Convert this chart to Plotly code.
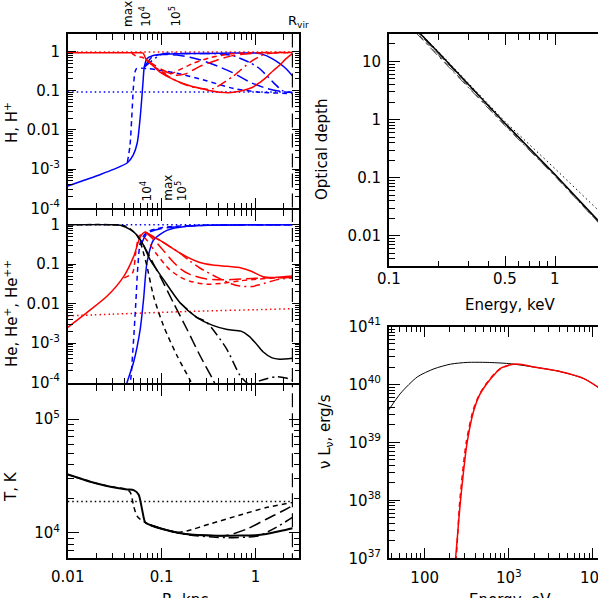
import math
import plotly.graph_objects as go

# positions below are given in reference pixels
W = 700
H = 598
FONT = "DejaVu Sans"
RED = "#ff0000"
BLUE = "#0000ff"

R_VIR = 2.47

# ---- panel 1: H, H+ ----
h_red_solid_r = [0.01, 0.03, 0.06, 0.0635, 0.0655, 0.068, 0.08, 0.096, 0.12, 0.157, 0.2, 0.255, 0.33, 0.416, 0.55, 0.676, 0.93, 1.1, 1.3, 1.55, 1.79, 2.1, 2.47]
h_red_solid = [0.93, 0.93, 0.93, 0.92, 0.8, 0.64, 0.45, 0.3, 0.22, 0.164, 0.135, 0.116, 0.1, 0.092, 0.09, 0.097, 0.123, 0.16, 0.22, 0.33, 0.44, 0.65, 0.89]
h_red_dash_r = [0.048, 0.051, 0.055, 0.062, 0.068, 0.085, 0.105, 0.125, 0.146, 0.215, 0.33, 0.5, 0.8, 2.47]
h_red_dash = [0.93, 0.82, 0.74, 0.72, 0.62, 0.4, 0.29, 0.27, 0.32, 0.5, 0.7, 0.85, 0.93, 0.93]
h_red_long_r = [0.068, 0.1, 0.14, 0.18, 0.255, 0.4, 0.57, 0.9, 1.3, 2.47]
h_red_long = [0.62, 0.35, 0.25, 0.27, 0.42, 0.62, 0.79, 0.9, 0.95, 0.95]
h_red_dd_r = [0.068, 0.1, 0.15, 0.2, 0.3, 0.36, 0.57, 0.86, 1.1, 1.3, 1.9, 2.47]
h_red_dd = [0.62, 0.3, 0.17, 0.13, 0.11, 0.115, 0.23, 0.52, 0.75, 0.87, 0.95, 0.95]
h_red_dot_r = [0.01, 2.47]
h_red_dot = [0.98, 0.98]

h_blue_solid_r = [0.01, 0.0223, 0.0307, 0.0432, 0.0499, 0.055, 0.0591, 0.0632, 0.0653, 0.0697, 0.08, 0.1, 0.15, 0.3, 0.6, 1.0, 1.2, 1.5, 1.8, 2.1, 2.47]
h_blue_solid = [3.7e-4, 7.3e-4, 9.8e-4, 1.45e-3, 2.3e-3, 4.7e-3, 0.021, 0.155, 0.4, 0.66, 0.78, 0.85, 0.88, 0.9, 0.92, 0.92, 0.85, 0.66, 0.5, 0.37, 0.24]
h_blue_dash_r = [0.0432, 0.046, 0.048, 0.05, 0.052, 0.054, 0.07, 0.09, 0.146, 0.3, 0.57, 1.1, 2.47]
h_blue_dash = [1.5e-3, 4e-3, 0.02, 0.12, 0.3, 0.37, 0.37, 0.34, 0.28, 0.18, 0.116, 0.092, 0.085]
h_blue_long_r = [0.0653, 0.08, 0.1, 0.146, 0.2, 0.255, 0.4, 0.57, 0.9, 1.3, 1.9, 2.47]
h_blue_long = [0.4, 0.75, 0.84, 0.82, 0.72, 0.62, 0.42, 0.29, 0.16, 0.116, 0.095, 0.09]
h_blue_dd_r = [0.0653, 0.1, 0.2, 0.4, 0.57, 0.86, 1.1, 1.3, 1.6, 1.95, 2.47]
h_blue_dd = [0.4, 0.85, 0.89, 0.88, 0.79, 0.53, 0.37, 0.25, 0.15, 0.1, 0.09]
h_blue_dot_r = [0.01, 2.47]
h_blue_dot = [0.093, 0.093]

# ---- panel 2: He, He+, He++ ----
he_black_solid_r = [0.01, 0.03, 0.0364, 0.0465, 0.0547, 0.0642, 0.0755, 0.1045, 0.157, 0.236, 0.35, 0.5, 0.7, 0.85, 1.0, 1.2, 1.5, 1.8, 2.47]
he_black_solid = [1.0, 1.0, 0.97, 0.75, 0.54, 0.3, 0.128, 0.041, 0.0105, 0.0045, 0.0028, 0.0022, 0.002, 0.0015, 0.001, 6e-4, 4.2e-4, 3.9e-4, 4.1e-4]
he_black_dash_r = [0.01, 0.03, 0.04, 0.045, 0.052, 0.058, 0.065, 0.0697, 0.0819, 0.1045, 0.145, 0.2, 0.23]
he_black_dash = [1.0, 1.0, 0.95, 0.82, 0.62, 0.42, 0.17, 0.09, 0.0155, 0.00275, 4.9e-4, 1.16e-4, 6e-5]
he_black_long_r = [0.0642, 0.075, 0.0964, 0.133, 0.185, 0.255, 0.353, 0.4]
he_black_long = [0.3, 0.15, 0.049, 0.0106, 0.0023, 4.9e-4, 1.16e-4, 6e-5]
he_black_dd_r = [0.157, 0.236, 0.3, 0.49, 0.678, 0.8, 0.9, 1.1, 1.66, 2.11, 2.47]
he_black_dd = [0.0105, 0.0045, 0.0034, 7.2e-4, 1.55e-4, 1e-4, 8.5e-5, 1.1e-4, 1.4e-4, 1.3e-4, 1.15e-4]

he_blue_solid_r = [0.041, 0.0428, 0.0503, 0.0592, 0.0642, 0.0697, 0.0819, 0.1137, 0.185, 0.35, 2.47]
he_blue_solid = [7e-5, 1e-4, 3.3e-4, 2.3e-3, 0.013, 0.106, 0.41, 0.72, 0.91, 0.97, 1.0]
he_blue_dash_r = [0.045, 0.0465, 0.05, 0.053, 0.056, 0.06, 0.07, 0.09, 0.13, 0.25, 2.47]
he_blue_dash = [7e-5, 1e-4, 1e-3, 0.01, 0.1, 0.4, 0.65, 0.8, 0.9, 0.97, 1.0]
he_blue_long_r = [0.06, 0.07, 0.1, 0.2, 0.4, 2.47]
he_blue_long = [0.3, 0.6, 0.8, 0.93, 0.98, 1.0]
he_blue_dot_r = [0.01, 2.47]
he_blue_dot = [1.0, 1.0]

he_red_solid_r = [0.01, 0.0161, 0.0263, 0.0395, 0.0503, 0.0592, 0.0668, 0.08, 0.0964, 0.157, 0.255, 0.35, 0.5, 0.7, 0.9, 1.2, 1.6, 2.47]
he_red_solid = [0.0025, 0.006, 0.0155, 0.049, 0.155, 0.49, 0.65, 0.5, 0.4, 0.19, 0.11, 0.095, 0.088, 0.08, 0.066, 0.048, 0.046, 0.05]
he_red_dash_r = [0.04, 0.049, 0.053, 0.057, 0.06, 0.07, 0.09, 0.12, 0.16, 0.2, 0.3, 0.45, 0.7, 1.1, 1.6, 2.47]
he_red_dash = [0.045, 0.06, 0.2, 0.5, 0.55, 0.4, 0.17, 0.075, 0.046, 0.037, 0.031, 0.033, 0.038, 0.042, 0.045, 0.047]
he_red_long_r = [0.0668, 0.08, 0.1, 0.13, 0.16, 0.2, 0.3, 0.45, 0.7, 1.0, 2.47]
he_red_long = [0.65, 0.45, 0.25, 0.12, 0.075, 0.055, 0.042, 0.04, 0.042, 0.044, 0.046]
he_red_dd_r = [0.0668, 0.0964, 0.157, 0.2, 0.255, 0.4, 0.55, 0.68, 0.9, 1.1, 1.66, 2.47]
he_red_dd = [0.65, 0.4, 0.19, 0.12, 0.08, 0.045, 0.032, 0.028, 0.027, 0.03, 0.04, 0.045]
he_red_dot_r = [0.01, 0.03, 0.1, 0.3, 1.0, 2.47]
he_red_dot = [0.0049, 0.0054, 0.006, 0.0065, 0.007, 0.0074]

# ---- panel 3: temperature ----
t_solid_r = [0.01, 0.019, 0.0285, 0.0428, 0.0503, 0.0568, 0.0618, 0.0668, 0.0755, 0.1, 0.145, 0.2, 0.326, 0.5, 0.73, 1.0, 1.3, 1.94, 2.47]
t_solid = [32600, 27600, 25500, 24100, 23800, 21800, 16200, 12400, 11750, 10900, 10100, 9700, 9500, 9450, 9500, 9550, 9800, 10500, 11000]
t_dash_r = [0.01, 0.019, 0.0285, 0.0428, 0.0465, 0.0503, 0.0545, 0.0618, 0.0668, 0.0755, 0.1, 0.145, 0.185, 0.326, 0.73, 1.3, 2.47]
t_dash = [32600, 27600, 25500, 24100, 22600, 17300, 14100, 12800, 12400, 11750, 10900, 10100, 10400, 12000, 14600, 16700, 18500]
t_long_r = [0.0755, 0.1, 0.145, 0.2, 0.326, 0.49, 0.8, 1.3, 1.94, 2.47]
t_long = [11750, 10900, 10100, 9700, 9500, 9500, 10800, 13200, 15600, 17300]
t_dd_r = [0.0755, 0.1, 0.145, 0.2, 0.35, 0.5, 0.8, 1.1, 1.66, 2.47]
t_dd = [11750, 10900, 10100, 9600, 9200, 9100, 9200, 9500, 11200, 13700]
t_dot_r = [0.01, 2.47]
t_dot = [18900, 18900]

# ---- optical depth ----
tau_e = [0.1, 0.2, 0.5, 1.0, 2.0, 4.0]
tau_solid = [110, 14, 0.86, 0.113, 0.0135, 0.0016]
tau_dash = [100, 12.6, 0.8, 0.107, 0.013, 0.0015]
tau_long = [104, 13.2, 0.83, 0.11, 0.0132, 0.0016]
tau_dd = [96, 12.2, 0.78, 0.105, 0.0128, 0.0015]
tau_dot = [110, 14.5, 0.92, 0.142, 0.021, 0.003]

# ---- spectrum ----
spec_black_e = [37.4, 51.9, 81.9, 129, 203, 320, 553, 1000, 1983, 4140, 7820, 11600, 20000, 40000]
spec_black = [3.63e39, 7.08e39, 1.35e40, 1.86e40, 2.24e40, 2.40e40, 2.40e40, 2.29e40, 2.0e40, 1.66e40, 1.26e40, 8.9e39, 5.0e39, 1.8e39]
spec_red_e = [225, 233, 267, 320, 385, 450, 553, 700, 800, 1000, 1150, 1500, 1983, 4140, 7820, 11600, 20000, 40000]
spec_red = [6.3e36, 1e37, 1e38, 1e39, 3.63e39, 6.6e39, 1.05e40, 1.58e40, 1.9e40, 2.14e40, 2.24e40, 2.19e40, 2.0e40, 1.66e40, 1.26e40, 8.9e39, 5.0e39, 1.8e39]
spec_red_dash_e = [228, 237, 262, 312, 378, 445, 545, 690, 800, 1000, 1150]
spec_red_dash = [6.3e36, 1e37, 1e38, 1e39, 3.63e39, 6.6e39, 1.05e40, 1.58e40, 1.9e40, 2.14e40, 2.24e40]

DASH = "5px,4px"
LONG = "12px,5px"
DD = "10px,4px,2px,4px"
DOT = "1.5px,3px"

fig = go.Figure()


def line(x, y, xa, ya, color, dash="solid", width=1.5, shape="spline"):
    fig.add_trace(go.Scatter(x=x, y=y, xaxis=xa, yaxis=ya, mode="lines",
                             line=dict(color=color, dash=dash, width=width, shape=shape, smoothing=0.7),
                             hoverinfo="skip", showlegend=False))


# panel 1
line(h_red_dot_r, h_red_dot, "x", "y", RED, DOT)
line(h_blue_dot_r, h_blue_dot, "x", "y", BLUE, DOT)
line(h_blue_dash_r, h_blue_dash, "x", "y", BLUE, DASH)
line(h_blue_long_r, h_blue_long, "x", "y", BLUE, LONG)
line(h_blue_dd_r, h_blue_dd, "x", "y", BLUE, DD)
line(h_blue_solid_r, h_blue_solid, "x", "y", BLUE)
line(h_red_dash_r, h_red_dash, "x", "y", RED, DASH)
line(h_red_long_r, h_red_long, "x", "y", RED, LONG)
line(h_red_dd_r, h_red_dd, "x", "y", RED, DD)
line(h_red_solid_r, h_red_solid, "x", "y", RED)

# panel 2
line(he_blue_dot_r, he_blue_dot, "x2", "y2", BLUE, DOT)
line(he_red_dot_r, he_red_dot, "x2", "y2", RED, DOT)
line(he_blue_dash_r, he_blue_dash, "x2", "y2", BLUE, DASH)
line(he_blue_long_r, he_blue_long, "x2", "y2", BLUE, LONG)
line(he_blue_solid_r, he_blue_solid, "x2", "y2", BLUE)
line(he_red_dash_r, he_red_dash, "x2", "y2", RED, DASH)
line(he_red_long_r, he_red_long, "x2", "y2", RED, LONG)
line(he_red_dd_r, he_red_dd, "x2", "y2", RED, DD)
line(he_red_solid_r, he_red_solid, "x2", "y2", RED)
line(he_black_dash_r, he_black_dash, "x2", "y2", "black", DASH)
line(he_black_long_r, he_black_long, "x2", "y2", "black", LONG)
line(he_black_dd_r, he_black_dd, "x2", "y2", "black", DD)
line(he_black_solid_r, he_black_solid, "x2", "y2", "black")

# panel 3
line(t_dot_r, t_dot, "x3", "y3", "black", DOT)
line(t_dash_r, t_dash, "x3", "y3", "black", DASH)
line(t_long_r, t_long, "x3", "y3", "black", LONG)
line(t_dd_r, t_dd, "x3", "y3", "black", DD)
line(t_solid_r, t_solid, "x3", "y3", "black", width=2)

# virial radius marker in the three left panels
for xa, ya, lo, hi in [("x", "y", 1e-5, 10), ("x2", "y2", 1e-5, 10), ("x3", "y3", 5000, 3e5)]:
    line([R_VIR, R_VIR], [lo, hi], xa, ya, "black", "14px,6px", 1.2, "linear")

# optical depth
line(tau_e, tau_dot, "x4", "y4", "black", DOT, 1.0, "linear")
line(tau_e, tau_dash, "x4", "y4", "#444444", DASH, 1.0, "linear")
line(tau_e, tau_long, "x4", "y4", "#444444", LONG, 1.0, "linear")
line(tau_e, tau_dd, "x4", "y4", "#444444", DD, 1.0, "linear")
line(tau_e, tau_solid, "x4", "y4", "black", width=1.5, shape="linear")

# spectrum
line(spec_black_e, spec_black, "x5", "y5", "black", width=1.0)
line(spec_red_dash_e, spec_red_dash, "x5", "y5", RED, DASH, 1.5)
line(spec_red_e, spec_red, "x5", "y5", RED, width=1.5)


def decade_minor(lo, hi, mults=(2, 3, 4, 5, 6, 7, 8, 9)):
    return [m * 10.0 ** d for d in range(lo, hi) for m in mults]


def axis(dom, rng, anchor, tickvals, ticktext, minor_vals, tlen, mlen, labels=True, standoff=0):
    return dict(type="log", domain=dom, range=rng, anchor=anchor,
                showline=True, linecolor="black", linewidth=1.5, mirror="allticks",
                ticks="inside", ticklen=tlen, tickwidth=1, tickcolor="black",
                tickmode="array", tickvals=tickvals, ticktext=ticktext,
                showticklabels=labels, ticklabelstandoff=standoff,
                minor=dict(ticks="inside", ticklen=mlen, tickwidth=1, tickcolor="black",
                           tickmode="array", tickvals=minor_vals, showgrid=False),
                showgrid=False, zeroline=False, automargin=False,
                tickfont=dict(family=FONT, size=15, color="black"))


frac_vals = [1e-4, 1e-3, 0.01, 0.1, 1]
frac_text = ["10<sup>-4</sup>", "10<sup>-3</sup>", "0.01", "0.1", "1"]
r_vals = [0.01, 0.1, 1]
r_text = ["0.01", "0.1", "1"]
t_vals = [1e4, 1e5]
t_text = ["10<sup>4</sup>", "10<sup>5</sup>"]
tau_vals = [0.01, 0.1, 1, 10]
tau_text = ["0.01", "0.1", "1", "10"]
ekev_vals = [0.1, 0.5, 1]
ekev_text = ["0.1", "0.5", "1"]
ev_vals = [100, 1000, 10000]
ev_text = ["100", "10<sup>3</sup>", "10<sup>4</sup>"]
lum_vals = [1e37, 1e38, 1e39, 1e40, 1e41]
lum_text = ["10<sup>37</sup>", "10<sup>38</sup>", "10<sup>39</sup>", "10<sup>40</sup>", "10<sup>41</sup>"]


def fx(x):
    return x / W


def fy(y):
    return 1 - y / H


def dx(a, b):
    return [fx(a), fx(b)]


def dy(top, bot):
    return [fy(bot), fy(top)]


left = dx(67.75, 299.25)
right = dx(388.75, 640)
r_range = [-2, math.log10(2.92)]

fig.update_layout(
    width=W, height=H, margin=dict(l=0, r=0, t=0, b=0),
    paper_bgcolor="white", plot_bgcolor="white", showlegend=False,
    xaxis=axis(left, r_range, "y", r_vals, r_text, decade_minor(-2, 1), 11, 6, labels=False),
    yaxis=axis(dy(33.75, 208.25), [-4, 0.456], "x", frac_vals, frac_text, decade_minor(-4, 0), 8, 5, standoff=3),
    xaxis2=axis(left, r_range, "y2", r_vals, r_text, decade_minor(-2, 1), 11, 6, labels=False),
    yaxis2=axis(dy(209.75, 383.25), [-4.02, 0.38], "x2", frac_vals, frac_text, decade_minor(-4, 0), 8, 5, standoff=3),
    xaxis3=axis(left, r_range, "y3", r_vals, r_text, decade_minor(-2, 1), 11, 6, standoff=4),
    yaxis3=axis(dy(384.75, 558.25), [math.log10(6000), math.log10(2e5)], "x3", t_vals, t_text, decade_minor(3, 6), 11, 6, standoff=3),
    xaxis4=axis(right, [-1, 0.509], "y4", ekev_vals, ekev_text, [0.2, 0.3, 0.4, 0.6, 0.7, 0.8, 0.9, 2, 3], 11, 6, labels=False),
    yaxis4=axis(dy(33.75, 266.25), [math.log10(0.003), math.log10(30)], "x4", tau_vals, tau_text, decade_minor(-3, 2), 11, 6, standoff=3),
    xaxis5=axis(right, [1.573, 4.56], "y5", ev_vals, ev_text, decade_minor(1, 5), 11, 6, standoff=5),
    yaxis5=axis(dy(326.5, 558.25), [37, 41], "x5", lum_vals, lum_text, decade_minor(37, 41), 11, 6, standoff=3),
)

anns = []


def label(text, x, y, angle=0, size=15, xanchor="center", yanchor="middle", xref="paper"):
    anns.append(dict(text=text, x=x, y=y, xref=xref, yref="paper", textangle=angle,
                     showarrow=False, xanchor=xanchor, yanchor=yanchor,
                     font=dict(family=FONT, size=size, color="black")))


label("H, H<sup>+</sup>", fx(11), fy(123), -90)
label("He, He<sup>+</sup>, He<sup>++</sup>", fx(11), fy(314), -90)
label("T, K", fx(11), fy(487), -90)
label("Optical depth", fx(322), fy(150), -90)
label("ν L<sub>ν</sub>, erg/s", fx(325), fy(432), -90)
label("Energy, keV", fx(510), fy(305))
label("R, kpc", fx(185), fy(589), yanchor="top")
label("Energy, eV", fx(510), fy(589), yanchor="top")
label("R<sub>vir</sub>", fx(298), fy(32), size=13, yanchor="bottom")

# keV tick labels sit right under the axis
for v, t in zip(ekev_vals, ekev_text):
    label(t, math.log10(v), fy(268), yanchor="top", xref="x4")

top1_r = [0.0437, 0.0669, 0.139]
top1_text = ["max", "10<sup>4</sup>", "10<sup>5</sup>"]
top2_r = [0.068, 0.116, 0.16]
top2_text = ["10<sup>4</sup>", "max", "10<sup>5</sup>"]
for r, t in zip(top1_r, top1_text):
    label(t, math.log10(r), fy(29), -90, 12, yanchor="bottom", xref="x")
for r, t in zip(top2_r, top2_text):
    label(t, math.log10(r), fy(203), -90, 12, yanchor="bottom", xref="x")

fig.update_layout(annotations=anns)
# drop the browser's default page margin so the figure starts at the window corner
fig.write_html("out.html", config={"displayModeBar": False},
               post_script="document.body.style.margin = '0px';")
